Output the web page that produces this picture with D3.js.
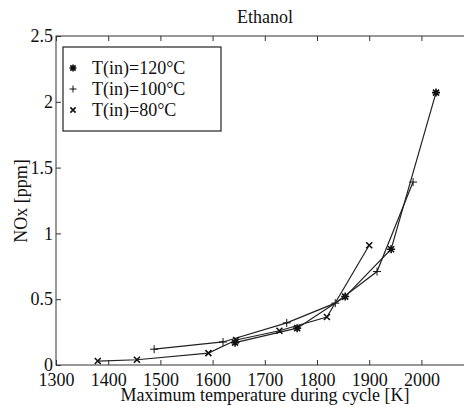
<!DOCTYPE html>
<html>
<head>
<meta charset="utf-8">
<script src="https://cdn.jsdelivr.net/npm/d3@7"></script>
<style>
  body { margin: 0; background: #fff; }
  text { font-family: "Liberation Serif", "DejaVu Serif", serif; fill: #111; }
</style>
</head>
<body>
<div id="chart"></div>
<script>
// data
var t120 = [1643, 1762, 1854, 1942, 2028]
var nox120 = [0.17, 0.28, 0.52, 0.88, 2.07]
var t100 = [1488, 1620, 1742, 1835, 1915, 1984]
var nox100 = [0.12, 0.175, 0.32, 0.47, 0.71, 1.39]
var t80 = [1380, 1455, 1592, 1645, 1728, 1819, 1900]
var nox80 = [0.03, 0.04, 0.09, 0.19, 0.26, 0.365, 0.91]
var seriesNames = ["T(in)=120°C", "T(in)=100°C", "T(in)=80°C"]
var xTicks = [1300, 1400, 1500, 1600, 1700, 1800, 1900, 2000]
var yTicks = [0, 0.5, 1, 1.5, 2, 2.5]

var width = 464,
    height = 407

var svg = d3.select("#chart").append("svg")
    .attr("width", width)
    .attr("height", height)

var x = d3.scaleLinear().domain([1300, 2100]).range([56, 473.6])
var y = d3.scaleLinear().domain([0, 2.5]).range([365, 36])

// box
svg.append("rect")
    .attr("x", x(1300)).attr("y", y(2.5))
    .attr("width", x(2100) - x(1300)).attr("height", y(0) - y(2.5))
    .attr("fill", "none").attr("stroke", "#333").attr("stroke-width", 1)

// axes, ticks pointing in
var tk = 5
svg.append("g").attr("transform", "translate(0," + y(0) + ")")
    .call(d3.axisBottom(x).tickValues(xTicks).tickSizeInner(-tk).tickSizeOuter(0).tickPadding(8).tickFormat(d3.format("d")))
svg.append("g").attr("transform", "translate(0," + y(2.5) + ")")
    .call(d3.axisTop(x).tickValues(xTicks).tickSizeInner(-tk).tickSizeOuter(0).tickFormat(""))
svg.append("g").attr("transform", "translate(" + x(1300) + ",0)")
    .call(d3.axisLeft(y).tickValues(yTicks).tickSizeInner(-tk).tickSizeOuter(0).tickPadding(3).tickFormat(d3.format("")))
svg.selectAll(".domain").remove()
svg.selectAll(".tick line").attr("stroke", "#333")
svg.selectAll(".tick text")
    .style("font-family", "'Liberation Serif', serif")
    .style("font-size", "18px")
    .attr("fill", "#111")

// series
var series = [
  { name: seriesNames[0], t: t120, v: nox120, marker: "star" },
  { name: seriesNames[1], t: t100, v: nox100, marker: "plus" },
  { name: seriesNames[2], t: t80, v: nox80, marker: "cross" }
]

var line = d3.line().x(function(d) { return x(d[0]) }).y(function(d) { return y(d[1]) })

function markerPath(type, s) {
  var p = d3.path()
  if (type == "plus" || type == "star") {
    p.moveTo(-s, 0); p.lineTo(s, 0)
    p.moveTo(0, -s); p.lineTo(0, s)
  }
  if (type == "cross" || type == "star") {
    var c = s * 0.75
    p.moveTo(-c, -c); p.lineTo(c, c)
    p.moveTo(-c, c); p.lineTo(c, -c)
  }
  return p.toString()
}

series.forEach(function(s) {
  var pts = s.t.map(function(t, i) { return [t, s.v[i]] })
  svg.append("path")
      .datum(pts)
      .attr("d", line)
      .attr("fill", "none")
      .attr("stroke", "#222")
      .attr("stroke-width", 1.2)
  svg.selectAll(null)
      .data(pts)
      .enter()
      .append("path")
      .attr("transform", function(d) { return "translate(" + x(d[0]) + "," + y(d[1]) + ")" })
      .attr("d", markerPath(s.marker, 4))
      .attr("stroke", "#111")
      .attr("stroke-width", s.marker == "plus" ? 1 : 1.6)
      .attr("fill", "none")
})

// legend
var lg = svg.append("g")
lg.append("rect")
    .attr("x", 63).attr("y", 47).attr("width", 158).attr("height", 84)
    .attr("fill", "#fff").attr("stroke", "#222").attr("stroke-width", 1.2)
series.forEach(function(s, i) {
  var cy = 68 + i * 21
  lg.append("path")
      .attr("transform", "translate(73," + cy + ")")
      .attr("d", markerPath(s.marker, 3.5))
      .attr("stroke", "#111")
      .attr("stroke-width", s.marker == "plus" ? 1 : 1.6)
  lg.append("text")
      .attr("x", 92).attr("y", cy + 6)
      .style("font-size", "18px")
      .text(s.name)
})

// titles
svg.append("text")
    .attr("x", 265).attr("y", 23)
    .attr("text-anchor", "middle")
    .style("font-size", "18px")
    .text("Ethanol")
svg.append("text")
    .attr("x", 265).attr("y", 401)
    .attr("text-anchor", "middle")
    .style("font-size", "18px")
    .text("Maximum temperature during cycle [K]")
svg.append("text")
    .attr("transform", "translate(27,201) rotate(-90)")
    .attr("text-anchor", "middle")
    .style("font-size", "18px")
    .text("NOx [ppm]")
</script>
</body>
</html>
